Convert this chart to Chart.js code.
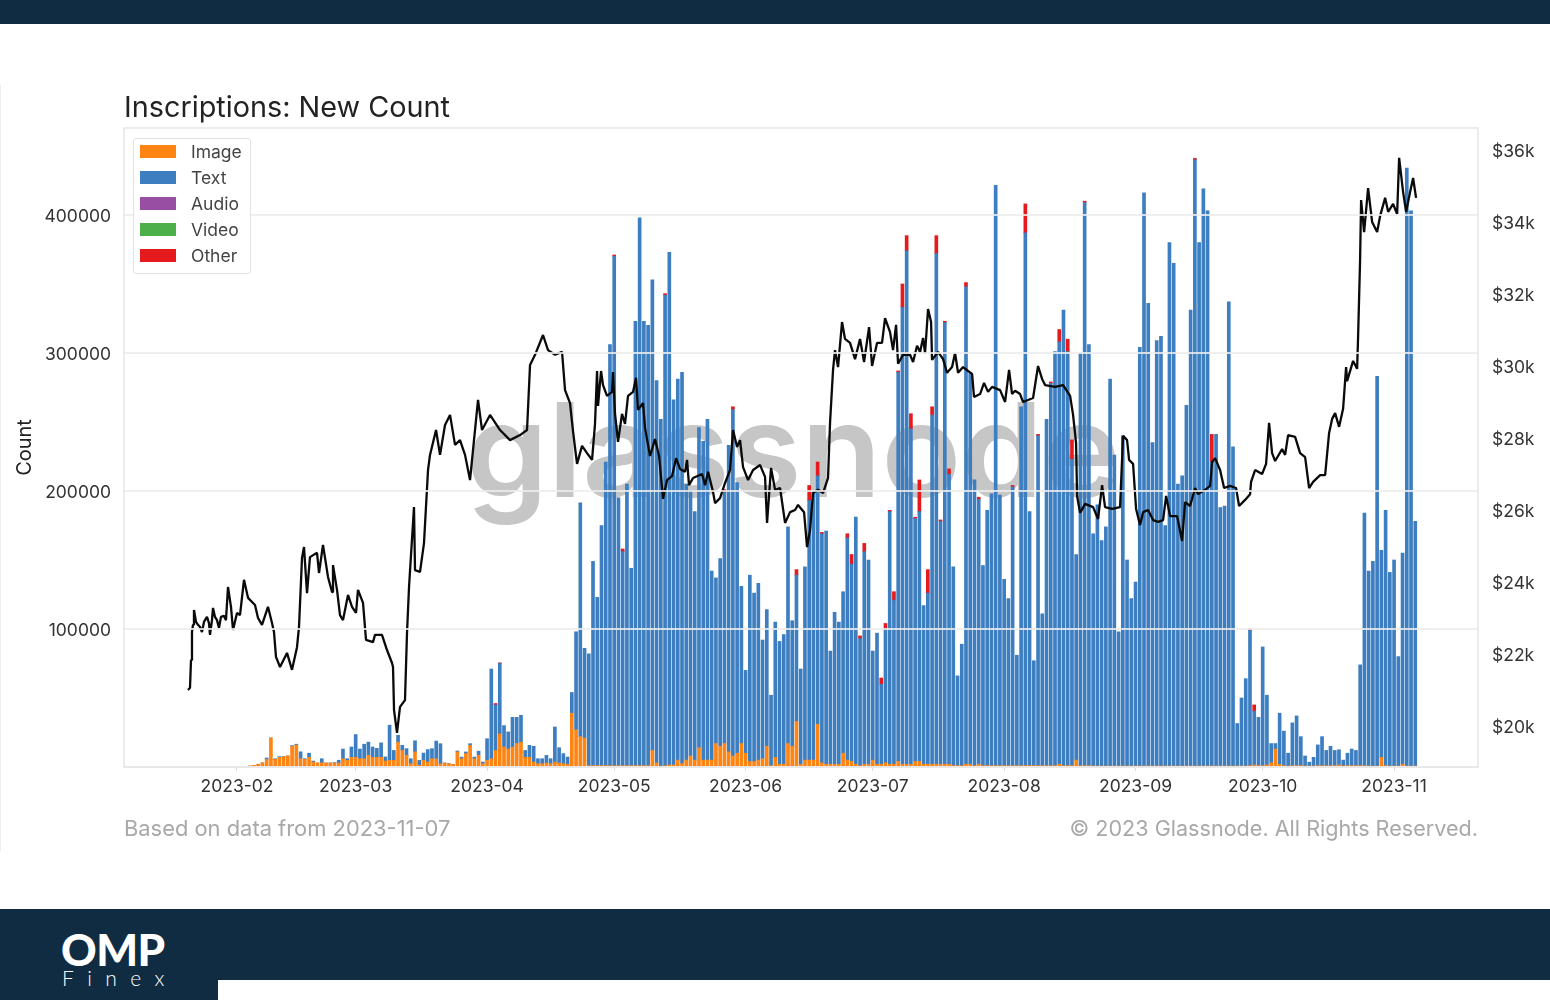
<!DOCTYPE html>
<html><head><meta charset="utf-8">
<script src="https://cdn.jsdelivr.net/npm/chart.js@4"></script>
<style>
html,body{margin:0;padding:0;background:#fff;width:1550px;height:1000px;overflow:hidden;font-family:Inter,sans-serif}
#wrap{position:relative;width:1550px;height:1000px}
canvas{position:absolute;left:0;top:0}
.abs{position:absolute;white-space:nowrap}
#top{left:0;top:0;width:1550px;height:24px;background:#102c42}
#bot{left:0;top:909px;width:1550px;height:91px;background:#102c42}
#notch{left:218px;top:980px;width:1332px;height:20px;background:#fff}
#edge{left:0;top:85px;width:1px;height:766px;background:#eeeeee}
#legend{left:133px;top:138px;width:116px;height:134px;background:rgba(255,255,255,.9);border:1.5px solid #e2e2e2;border-radius:3px;box-sizing:content-box}
.sw{position:absolute;left:6px;width:36px;height:13px}
.lb{position:absolute;left:57px;font-size:17.5px;color:#444;line-height:20px}
</style></head><body>
<div id="wrap">
<div class="abs" id="edge"></div>
<canvas id="c" width="1550" height="1000"></canvas>
<div class="abs" id="legend"></div>
<div class="abs" style="left:124px;top:815px;font-size:21.9px;color:#a8a8a8">Based on data from 2023-11-07</div>
<div class="abs" style="right:72px;top:815px;font-size:21.6px;color:#a8a8a8">© 2023 Glassnode. All Rights Reserved.</div>
<div class="abs" id="top"></div>
<div class="abs" id="bot"></div>
<div class="abs" id="notch"></div>
<div class="abs" style="left:61px;top:925px;font:900 44px/48px Lato,sans-serif;color:#fff;letter-spacing:-.5px">OMP</div>
<div class="abs" style="left:62px;top:966px;font:300 21px/24px Lato,sans-serif;color:#fff;letter-spacing:13.4px">Finex</div>
</div>
<script>
const seriesNames = ['Image','Text','Audio','Video','Other'];
const seriesColors = ['#ff8412','#3c7ec0','#984ea3','#4daf4a','#e41a1c'];
const monthLabels = ['2023-02','2023-03','2023-04','2023-05','2023-06','2023-07','2023-08','2023-09','2023-10','2023-11'];
const monthDays = [0,28,59,89,120,150,181,212,242,273];
const firstBarDay = 3;
// counts in thousands, one value per day from firstBarDay
const imageCounts = [
.7,1.2,2,3,5.5,21,5.5,7,7.5,8,
15,16,6,5.5,7,3.6,2.9,3,2.9,2.9,
2.9,2.9,6,4.8,7,7,6,6,8.5,7,
7,7,4.3,4.8,4.8,18,12,8.5,2.4,11,
1.2,4.8,3.6,6,6,2.4,2.9,2.4,1.9,10.9,
6,9.7,15.7,6,8.5,2.4,4.8,6,12,24,
14.5,13,14.5,17,18,7,7,3.6,2.4,2.4,
2.9,2.4,3.6,2.9,2.4,1.9,39,27,22,21,
1,1,1,1,1,1,1,1,1,1,
1,1,1,1,1,12,3,.5,1,1.5,
1.5,5,2.5,5,8,5,14,5,5,5,
17,15,17,11,8,10,17,10,4,4,
5,6,15,1,7,2,2,17,15,33,
2,5,5,5,31,3,2,2,2,2,
10,5,4,2,1,2,2,5,2,2,
3,2,2,4,2,2,2,4,4,2,
2,2,2,2,2,2,1,1,1,2,
2,1,2,1,1,1,1,1,1,1,
1,1,1,1,1,1,1,1,1,1,
1,2,1,1,1,5,1,1,1,.5,
.5,.5,.5,.5,.5,.5,.5,.5,.5,.5,
.5,.5,.5,.5,.5,.5,.5,.5,.5,.5,
.5,.5,.5,.5,.5,.5,.5,.5,.5,.5,
.5,.5,.5,.5,.5,.5,1,1.5,1,1,
1.5,3,13,2,1,.5,1,1,1,.5,
.3,.5,1,1,1,1,1,1.5,.5,1,
1,1,1,1,.5,.5,.5,7,1,.5,
.5,.5,2,.5,.5,.5];
const textCounts = [
0,0,0,0,1,0,.5,.5,0,0,
.5,.5,5,.5,3,.7,0,3,0,0,
.3,2,7,1.2,7.5,16.5,7,10.5,9.5,7.5,
6.5,10.5,3,25.5,7.2,5,3.7,4.8,3.6,8,
3.6,5.3,9,7.3,12.8,14.5,0,0,0,.7,
1.2,1.2,1.2,1.2,3,1.2,15.7,65,33,51,
15.5,12.4,21.5,19,19.5,5,8.7,11.4,3.6,3.6,
5.5,3.6,25.4,11.1,7.3,5.3,15,71,169.5,65,
81,148,122,174,220,305,369,194,155,204,
143,322,397,322,319,341,277,251.5,341,371.5,
264.5,276,283.5,200,192,180,232,231,247,137,
120,136,182,222,251,196,114,60,135,122,
128,86,99,51,98,89,94,157,91,106,
69,140,188,195,180,166,169,82,110,103,
117,161,143,179,92,154,148,79,95,58,
97,183,119,282,331,372,243,176,181,115,
124,253,370,176,320,210,144,65,88,346,
283,207,192,145,185,197,420.5,196,135,121,
202,80,260,386,184,76,239,110,251,277,
300,306,330,300,222,149,299,408,305,168.5,
189.5,163.5,173.5,280.5,225.5,97.5,239.5,149.5,121.5,133.5,
303.5,415.5,335.5,234.5,308.5,311.5,174.5,379.5,364.5,204.5,
210.5,261.5,330.5,439.5,379.5,418.5,402.5,220.5,240.5,187.5,
188.5,336.5,231.5,31,49.5,63.5,98,39,35,86,
50.5,14,4,37,25,9.5,31,36,21,7.5,
3.2,6.5,15,21,11,14,11,11,4.5,9,
12,11,73,183,141.5,148.5,282.5,150,185,140.5,
149.5,79.5,153,433.5,402.5,177.5];
const audioCounts = [];
const videoCounts = [];
const otherDays = [61,62,89,91,101,115,117,132,135,137,138,144,145,147,148,152,153,154,155,156,157,158,159,160,161,163,164,165,166,167,168,172,175,183,186,189,192,194,196,197,200,226,230,239,240];
const otherCounts = [1,.5,1,2,1,2,2,4,11,10,1,3,7,2,6,4.5,4,1,6,1,17,11,11,1,23,17,6,13,1,1,4,3,1.5,1,21,1,1,9,9,14,1,1,20,1,4.5];
// price in $k
const priceDays = [-11.56,-11.09,-10.85,-10.62,-10.38,-10.15,-9.67,-9.2,-8.73,-8.26,-7.79,-7.08,-6.61,-6.37,-5.9,-5.66,-5.19,-4.72,-4.25,-3.78,-3.07,-2.6,-2.12,-1.42,-.94,0,.71,1.65,2.6,4.25,4.96,5.9,7.31,8.26,8.73,9.2,10.15,11.8,12.98,14.16,14.63,15.34,15.81,16.52,17.22,18.88,19.35,20.29,21.47,22.42,22.65,23.6,24.3,25.01,26.19,27.14,28.08,28.55,29.73,30.44,32.09,32.56,34.21,35.39,36.57,36.81,37.05,37.75,38.46,39.64,40.11,40.59,41.76,42,43.18,44.12,45.07,45.54,46.96,47.9,49.08,50.26,51.44,52.62,53.8,54.98,55.69,56.87,57.81,59.7,62.06,64.42,66.78,68.43,69.14,70.32,72.2,73.38,75.04,76.69,77.4,78.57,79.28,80.23,81.41,82.59,83.77,84.47,84.95,85.18,85.89,86.36,87.3,88.48,88.72,89.19,89.9,90.84,91.55,92.26,93.44,94.15,94.62,95.8,96.27,97.45,98.63,99.58,100.52,101.46,102.64,103.59,104.53,105.71,106.18,106.65,107.6,109.72,110.43,111.14,112.32,112.79,113.97,115.15,116.33,117.04,117.98,118.69,119.4,120.58,121.76,123.41,124.59,125.06,126,126.95,128.13,129.31,130.49,131.67,132.37,133.79,134.5,135.2,135.91,137.09,138.27,139.45,139.92,140.63,141.1,141.81,142.75,143.46,144.64,145.82,147,147.95,149.13,149.84,151.01,152.19,152.9,154.08,154.79,155.5,155.97,157.15,158.8,159.51,160.45,161.16,161.87,162.34,163.05,163.76,163.99,165.41,166.59,167.53,168.71,169.42,170.13,171.31,172.49,173.43,173.9,175.32,176.26,177.2,178.15,180.04,181.22,182.16,182.87,183.58,184.76,185.46,187.82,189,189.95,190.66,193.01,194.9,196.56,197.26,197.97,198.21,198.92,200.09,201.98,203.16,204.11,204.81,206.47,208.35,209.06,210,210.48,211.42,212.13,213.07,213.78,214.96,216.14,217.32,218.5,219.21,220.15,221.8,222.98,223.69,224.87,226.05,226.76,228.41,229.59,230.07,230.77,231.95,232.89,234.31,235.72,236.43,237.85,239.03,239.26,240.21,241.86,242.8,243.51,244.22,244.93,246.58,247.29,248,249.65,250.83,252.01,252.95,253.9,255.55,256.73,257.67,258.38,259.09,260.03,260.97,261.68,261.92,263.33,264.28,264.51,264.98,265.22,265.93,266.87,267.82,269,269.71,270.89,271.6,272.77,273.72,274.19,275.13,275.84,276.78,277.49,278.19];
const priceValues = [21,21.06,21.83,22.61,22.81,23.22,22.89,22.81,22.75,22.61,22.89,23.03,22.86,22.53,22.94,23.28,23.03,22.94,22.72,23.03,23.06,22.94,23.86,23.31,22.67,23.14,23.08,24.06,23.56,23.36,23,22.81,23.31,22.86,22.61,21.92,21.64,22.03,21.56,22.19,22.75,24.67,24.97,23.69,24.69,24.81,24.25,25.03,24.14,23.72,24.47,23.78,23.08,22.94,23.64,23.31,23.14,23.78,23.42,22.39,22.33,22.53,22.53,22.11,21.75,21.64,20.44,19.81,20.53,20.72,22.58,23.86,26.08,24.33,24.28,25.08,27.11,27.53,28.22,27.53,28.36,28.64,27.81,27.94,27.53,26.83,27.67,29.06,28.22,28.64,28.22,27.94,28.08,28.22,30.03,30.31,30.86,30.44,30.31,30.39,29.33,28.97,28.19,27.28,27.78,27.58,27.39,28.39,29.86,28.89,29.86,29.47,29.17,29.28,29.83,28.67,27.89,28.67,28.39,29.17,29.28,29.67,28.78,28.97,28.28,27.5,27.97,27.5,26.31,26.83,26.94,27.44,27.14,27.06,27.39,26.69,26.89,27,26.69,27.06,26.5,26.19,26.33,26.75,27.11,28.22,27.75,27.94,27.19,26.83,27.11,27.25,26.92,25.64,27.17,26.56,26.61,25.64,25.94,26,26.14,25.94,24.97,25.44,26.47,26.56,26.47,26.89,28.42,29.89,30.44,29.97,31.22,30.75,30.64,30.19,30.75,30.11,31.08,30,30.64,30.64,31.33,30.94,30.44,31.14,30.06,30.31,30.31,30.11,30.56,30.39,30.78,30.36,31.58,31.22,30.17,30.39,30.19,29.81,29.97,30.36,29.81,29.97,29.86,29.78,29.14,29.22,29.53,29.28,29.42,29.33,29,29.89,29.22,29.31,29.22,29,29.11,30,29.64,29.47,29.42,29.47,29.17,28.64,27.86,26.39,25.92,26.17,26.08,25.75,26.69,26.08,26.03,26.08,28.06,27.94,27.39,27.28,26.03,25.58,25.94,26,25.72,25.67,25.72,26.39,25.83,25.83,25.14,26.22,26.11,26.61,26.44,26.56,26.67,27.33,27.44,27.11,26.61,26.67,26.61,26.11,26.28,26.44,26.78,27.11,27,27.28,28.42,27.58,27.36,27.69,27.53,28.08,28.03,27.58,27.47,26.61,26.78,26.97,26.97,28.14,28.53,28.69,28.31,28.81,29.97,29.58,30.14,29.92,30.81,32.94,34.61,33.72,34.94,34,33.72,34.17,34.67,34.28,34.5,34.22,35.78,34.83,34.28,34.83,35.22,34.67];

const xy = (arr, start) => arr.map((v, i) => ({x: start + i, y: v}));
const otherPts = otherDays.map((d, i) => ({x: d, y: otherCounts[i]}));
const seriesData = [xy(imageCounts, firstBarDay), xy(textCounts, firstBarDay), xy(audioCounts, firstBarDay), xy(videoCounts, firstBarDay), otherPts];
const barSets = seriesNames.map((n, i) => ({
  type: 'bar', label: n, data: seriesData[i], backgroundColor: seriesColors[i],
  barThickness: 3, yAxisID: 'y', stack: 's', order: 2, borderWidth: 0
}));
const lineSet = {
  type: 'line', label: 'Price', yAxisID: 'y1', order: 1, borderColor: '#0a0a0a', borderWidth: 2.3,
  pointRadius: 0, tension: 0, borderJoinStyle: 'bevel', data: priceDays.map((d, i) => ({x: d, y: priceValues[i]}))
};
const legendEl = document.getElementById('legend');
seriesNames.forEach((n, i) => {
  const s = document.createElement('div'); s.className = 'sw'; s.style.top = (6 + i * 26) + 'px'; s.style.background = seriesColors[i]; legendEl.appendChild(s);
  const l = document.createElement('div'); l.className = 'lb'; l.style.top = (3 + i * 26) + 'px'; l.textContent = n; legendEl.appendChild(l);
});
const watermark = { id: 'watermark', beforeDatasetsDraw(ch) {
  const c = ch.ctx; c.save(); c.font = '600 131px Inter, sans-serif'; c.fillStyle = '#c6c6c6'; c.textBaseline = 'alphabetic'; c.textAlign = 'left';
  c.fillText('glassnode', 466, 497); c.restore();
}};
const frame = { id: 'frame', afterDraw(ch) {
  const a = ch.chartArea, c = ch.ctx; c.save(); c.strokeStyle = '#e6e6e6'; c.lineWidth = 1.5;
  c.strokeRect(a.left, a.top, a.right - a.left, a.bottom - a.top); c.restore();
}};
const fixSize = (v) => (s) => { if (s.isHorizontal()) s.height = v; else s.width = v; };
const sideFont = { family: 'Inter', size: 17.5, lineHeight: '3px' };
new Chart(document.getElementById('c'), {
  data: { datasets: [...barSets, lineSet] },
  plugins: [watermark, frame],
  options: {
    responsive: false, animation: false, events: [],
    layout: { padding: { top: 0, left: 0, right: 0, bottom: 0 } },
    plugins: {
      legend: { display: false }, tooltip: { enabled: false },
      title: { display: true, text: 'Inscriptions: New Count', align: 'start', fullSize: false,
        font: { family: 'Inter', size: 28.8, weight: '400' }, lineHeight: 1.2, color: '#222', padding: { top: 91.5, bottom: 1.9 } }
    },
    scales: {
      x: { type: 'linear', stacked: true, offset: false, min: -26.66, max: 292.8,
        afterFit: fixSize(233),
        afterBuildTicks: (s) => { s.ticks = monthDays.map(v => ({value: v})); },
        grid: { offset: false, drawOnChartArea: false, drawTicks: true, tickLength: 4, color: '#dddddd' }, border: { display: false },
        ticks: { autoSkip: false, maxRotation: 0, padding: 5, color: '#333', font: { family: 'Inter', size: 17.5 },
          callback: (v) => monthLabels[monthDays.indexOf(v)] } },
      y: { position: 'left', stacked: true, min: 0, max: 463.04,
        afterFit: fixSize(124),
        title: { display: true, text: 'Count', color: '#222', font: { family: 'Inter', size: 20 }, padding: { top: 13, bottom: 0 } },
        grid: { z: 1, color: 'rgba(236,236,236,.85)', lineWidth: 2, drawTicks: false }, border: { display: false },
        ticks: { stepSize: 100, includeBounds: false, padding: 13, color: '#333', font: sideFont,
          callback: (v) => v === 0 ? '' : ['', String(v * 1000)] } },
      y1: { position: 'right', min: 18.861, max: 36.611,
        afterFit: fixSize(72),
        grid: { drawOnChartArea: false, drawTicks: false }, border: { display: false },
        ticks: { stepSize: 2, includeBounds: false, padding: 14, color: '#333', font: sideFont,
          callback: (v) => ['', '$' + Math.round(v) + 'k'] } }
    }
  }
});
</script>
</body></html>
